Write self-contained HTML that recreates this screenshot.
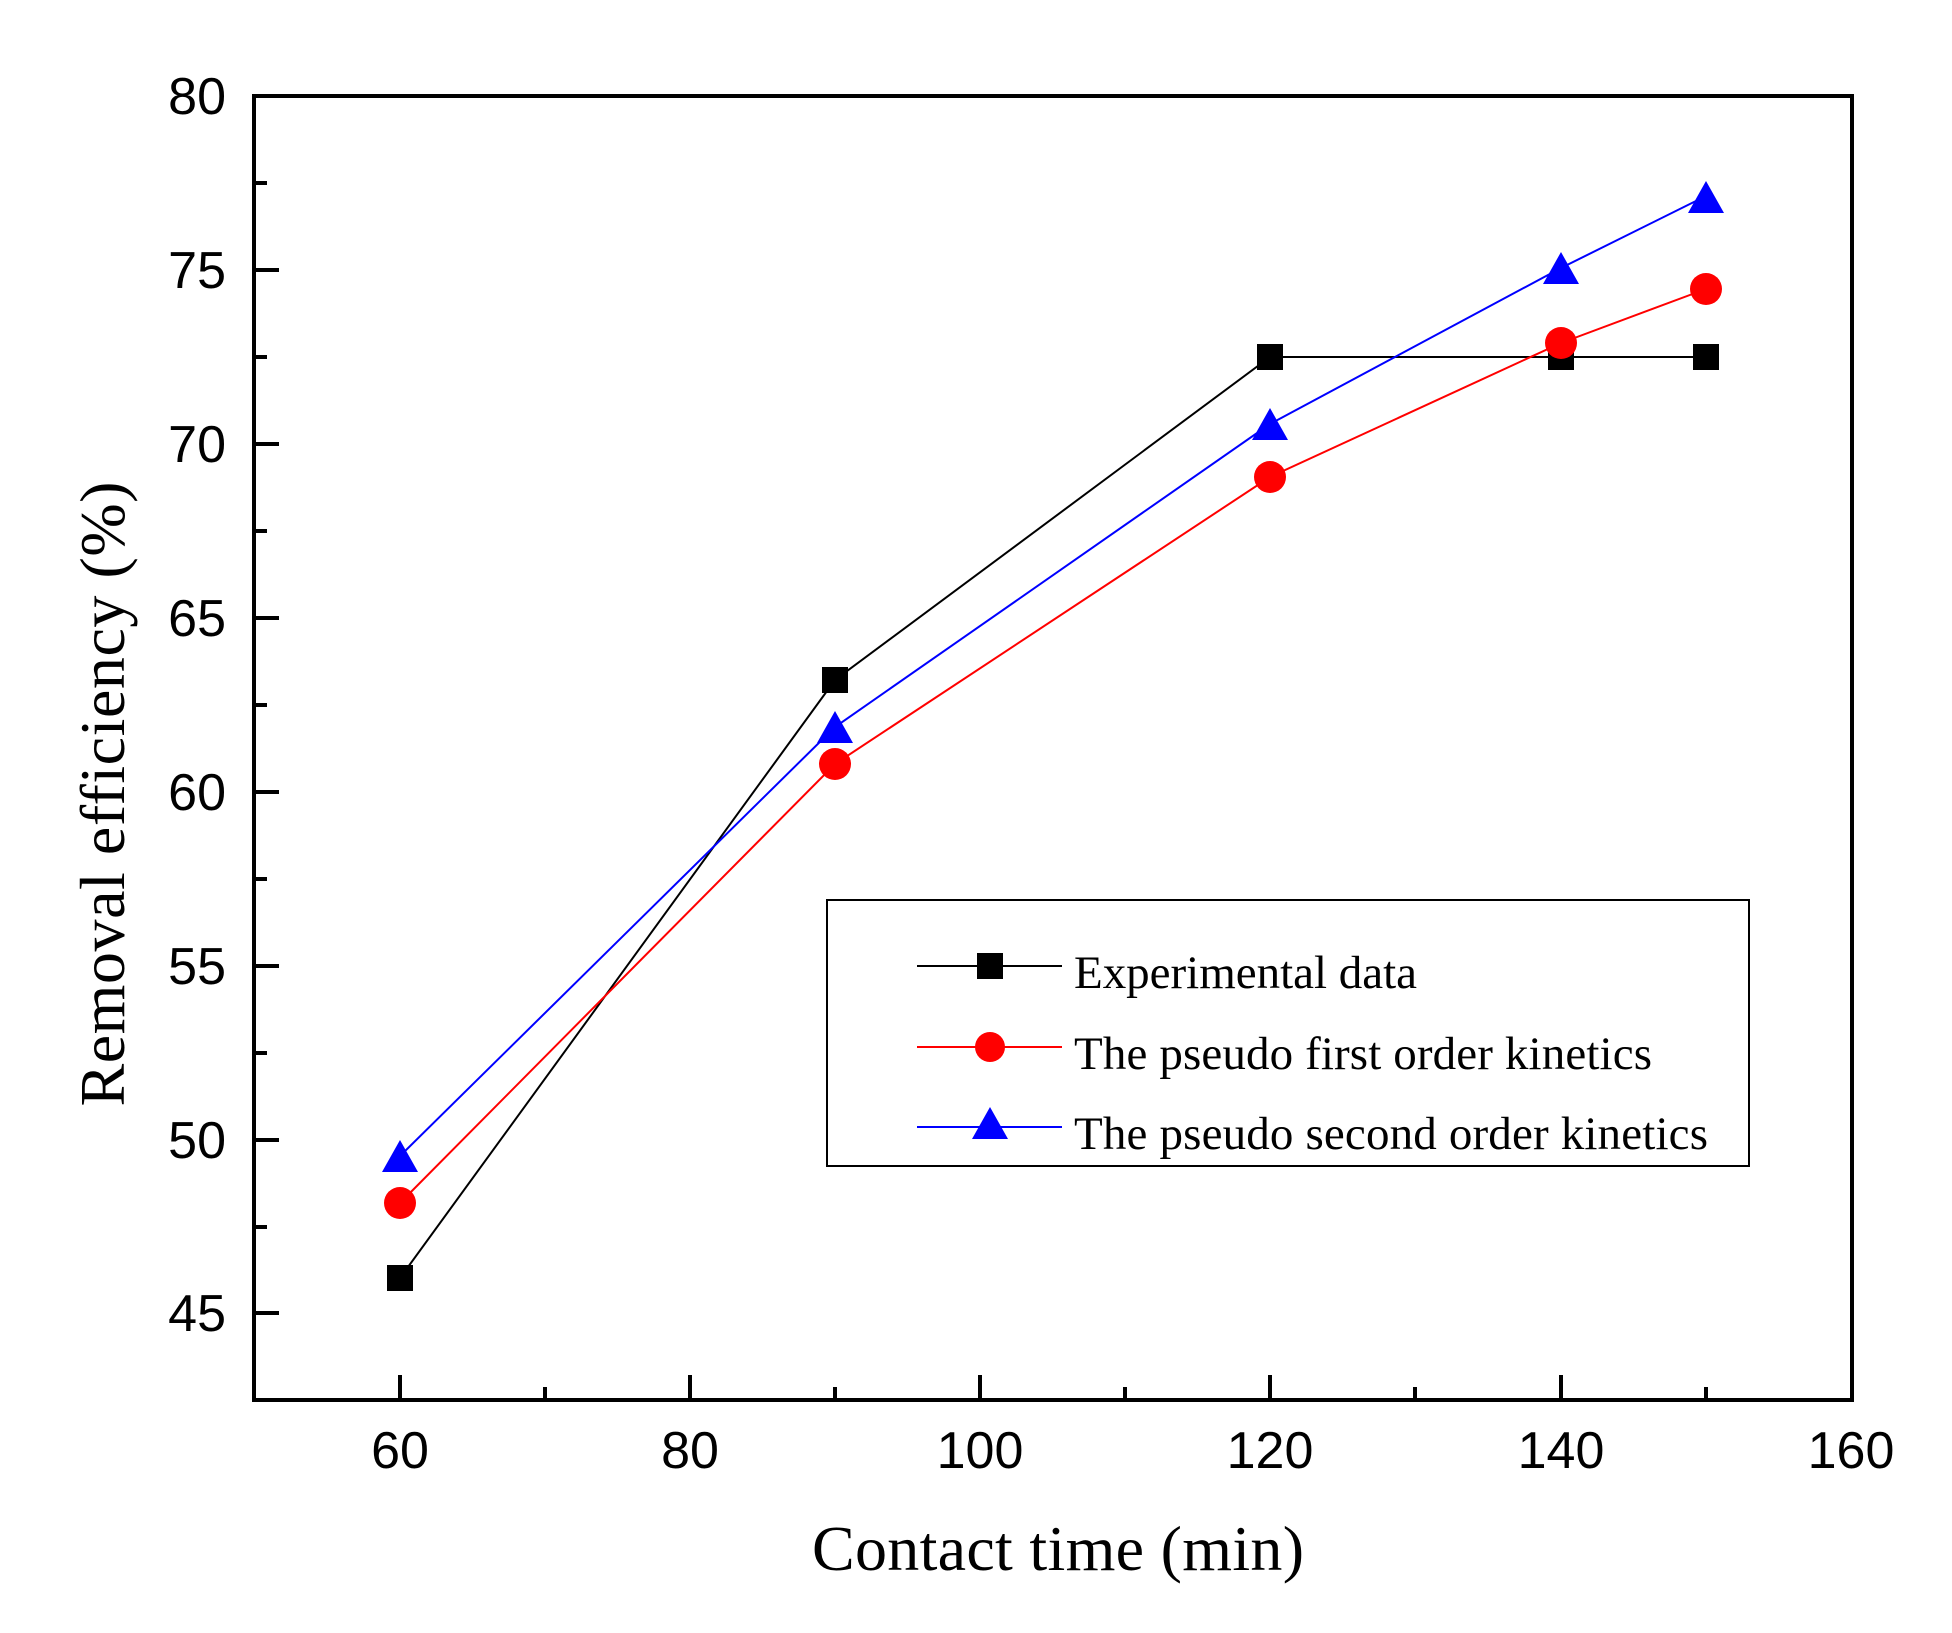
<!DOCTYPE html>
<html><head><meta charset="utf-8"><style>html,body{margin:0;padding:0;background:#fff}svg{display:block}</style></head>
<body>
<svg width="1952" height="1633" xmlns="http://www.w3.org/2000/svg">
<rect width="1952" height="1633" fill="#fff"/>
<g stroke="#000" stroke-width="4" fill="none">
<rect x="254" y="96" width="1598" height="1304"/>
<path d="M400 1400v-25M545 1400v-13M690 1400v-25M835 1400v-13M980 1400v-25M1125 1400v-13M1270 1400v-25M1415 1400v-13M1561 1400v-25M1706 1400v-13"/>
<path d="M254 96h25M254 183h13M254 270h25M254 357h13M254 444h25M254 531h13M254 618h25M254 705h13M254 792h25M254 879h13M254 966h25M254 1053h13M254 1140h25M254 1227h13M254 1313h25"/>
</g>
<g font-family="Liberation Sans, sans-serif" font-size="52" fill="#000" text-anchor="middle">
<text x="400" y="1468">60</text><text x="690" y="1468">80</text><text x="980" y="1468">100</text><text x="1270" y="1468">120</text><text x="1561" y="1468">140</text><text x="1851" y="1468">160</text>
</g>
<g font-family="Liberation Sans, sans-serif" font-size="52" fill="#000" text-anchor="end">
<text x="226" y="114">80</text><text x="226" y="288">75</text><text x="226" y="462">70</text><text x="226" y="636">65</text><text x="226" y="810">60</text><text x="226" y="984">55</text><text x="226" y="1158">50</text><text x="226" y="1331">45</text>
</g>
<text x="1058" y="1570" font-family="Liberation Serif, serif" font-size="64" text-anchor="middle" textLength="492">Contact time (min)</text>
<text transform="translate(124,794) rotate(-90)" font-family="Liberation Serif, serif" font-size="64" text-anchor="middle" textLength="625">Removal efficiency (%)</text>
<polyline fill="none" stroke="#000" stroke-width="2" points="400,1278 835,680 1270,357 1561,357 1706,357"/>
<polyline fill="none" stroke="#f00" stroke-width="2" points="400,1203 835,764 1270,477 1561,343 1706,289"/>
<polyline fill="none" stroke="#00f" stroke-width="2" points="400,1156 835,727 1270,424 1561,268 1706,196"/>
<g fill="#000">
<rect x="387" y="1265" width="26" height="26"/><rect x="822" y="667" width="26" height="26"/><rect x="1257" y="344" width="26" height="26"/><rect x="1548" y="344" width="26" height="26"/><rect x="1693" y="344" width="26" height="26"/>
</g>
<g fill="#f00">
<circle cx="400" cy="1203" r="16"/><circle cx="835" cy="764" r="16"/><circle cx="1270" cy="477" r="16"/><circle cx="1561" cy="343" r="16"/><circle cx="1706" cy="289" r="16"/>
</g>
<g fill="#00f">
<path d="M400 1140l18 32h-36z"/><path d="M835 711l18 32h-36z"/><path d="M1270 408l18 32h-36z"/><path d="M1561 252l18 32h-36z"/><path d="M1706 181l18 32h-36z"/>
</g>
<rect x="827" y="900" width="922" height="266" fill="none" stroke="#000" stroke-width="2"/>
<line x1="917" y1="966" x2="1062" y2="966" stroke="#000" stroke-width="2"/>
<rect x="977" y="953" width="26" height="26" fill="#000"/>
<line x1="917" y1="1047" x2="1062" y2="1047" stroke="#f00" stroke-width="2"/>
<circle cx="990" cy="1047" r="15" fill="#f00"/>
<line x1="917" y1="1127" x2="1062" y2="1127" stroke="#00f" stroke-width="2"/>
<path d="M990 1107l18 32h-36z" fill="#00f"/>
<g font-family="Liberation Serif, serif" font-size="47" fill="#000">
<text x="1074" y="988" textLength="343">Experimental data</text>
<text x="1074" y="1069" textLength="578">The pseudo first order kinetics</text>
<text x="1074" y="1149" textLength="634">The pseudo second order kinetics</text>
</g>
</svg>
</body></html>
